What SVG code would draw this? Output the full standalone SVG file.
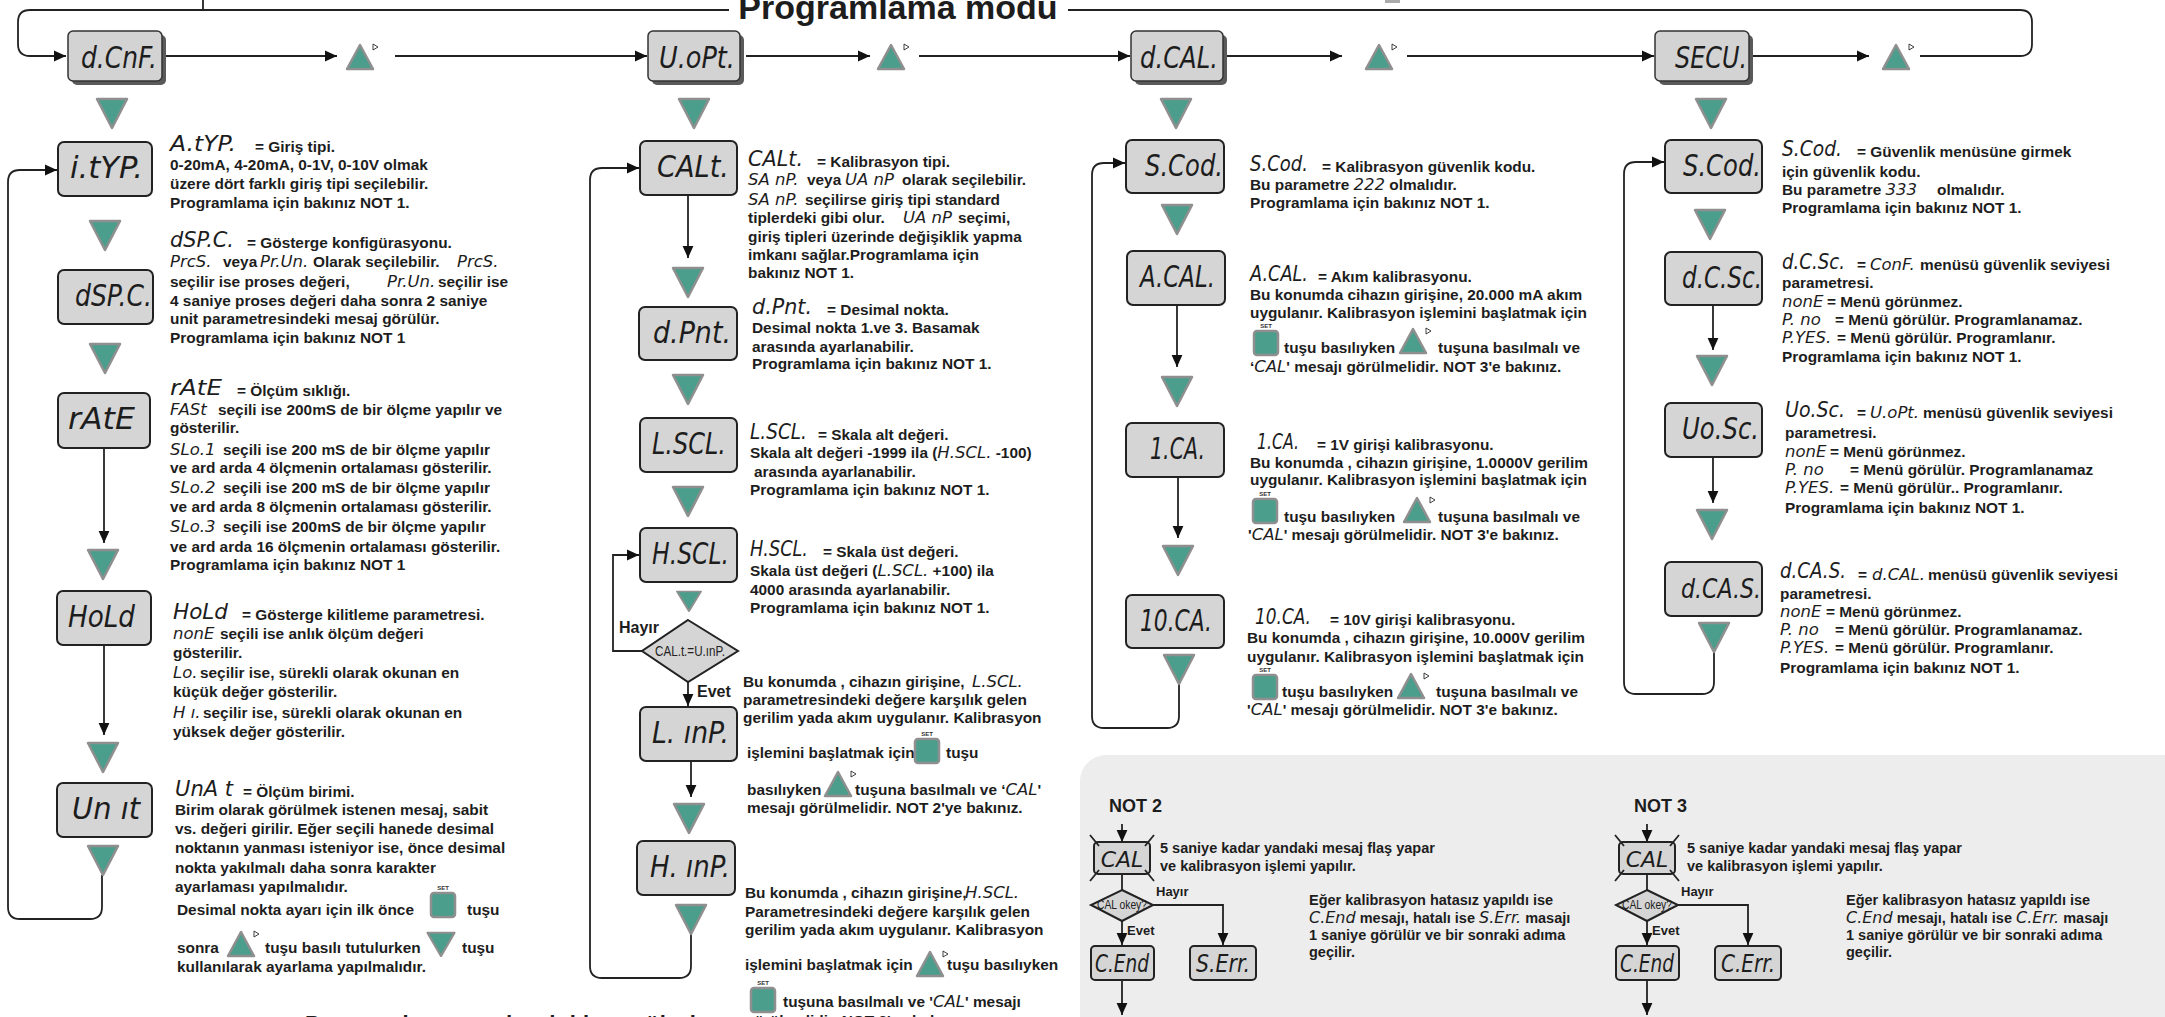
<svg xmlns="http://www.w3.org/2000/svg" xmlns:xlink="http://www.w3.org/1999/xlink" width="2165" height="1017" viewBox="0 0 2165 1017">
<style>
.tri{fill:#4a9e8b;stroke:#8f8f8f;stroke-width:2.5;stroke-linejoin:round}
.bx{fill:#d5d5d5;stroke:#222;stroke-width:2}
.bx3{fill:#d3d3d3;stroke:#333;stroke-width:1.5}
.sh3{fill:#5a5a5a}
.ln{fill:none;stroke:#222;stroke-width:1.8}
.ar{marker-end:url(#ah)}
.t{font-family:"Liberation Sans",Arial,sans-serif;font-weight:bold;font-size:15.4px;fill:#1d1d1d}
.n{font-size:14.5px}
.sg{font-family:"DejaVu Sans",sans-serif;font-style:italic;font-weight:normal;font-size:16.5px;fill:#1d1d1d}
.sh{font-size:21px}
.bl{font-family:"DejaVu Sans",sans-serif;font-style:italic;font-size:30px;fill:#1d1d1d}
.setl{font-family:"Liberation Sans",Arial,sans-serif;font-weight:bold;font-size:6px;fill:#333;text-anchor:middle}
.dl{font-family:"Liberation Sans",Arial,sans-serif;font-size:14px;fill:#222;text-anchor:middle}
</style>
<defs>
<marker id="ah" viewBox="0 0 10 10" refX="10" refY="5" markerWidth="12" markerHeight="12" markerUnits="userSpaceOnUse" orient="auto"><path d="M0,0.5 L10,5 L0,9.5 z" fill="#111"/></marker>
<polygon id="tdn" points="-15,-14 15,-14 0,15" class="tri"/>
<g id="tup"><polygon points="-13,12 13,12 0,-12" class="tri"/><polygon points="13,-13 13,-7 18,-10" fill="#fff" stroke="#111" stroke-width="0.8"/></g>
<g id="key"><rect x="-12" y="-12" width="24" height="24" rx="3" class="tri"/><text x="0" y="-15" class="setl">SET</text></g>
</defs>

<rect x="1080" y="755" width="1130" height="300" rx="26" fill="#ededed"/>

<text x="898" y="19" class="t" style="font-size:34px" text-anchor="middle">Programlama modu</text>
<rect x="1385" y="0" width="15" height="3" fill="#aaa"/>

<g id="connectors">
<path class="ln" d="M203,0 V10"/>
<path class="ln" d="M729,10 H30 Q18,10 18,22 V44 Q18,56 30,56 H66" marker-end="url(#ah)"/>
<path class="ln" d="M1920,56 H2020 Q2032,56 2032,44 V22 Q2032,10 2020,10 H1068"/>
<path class="ln ar" d="M166,56 H337"/>
<path class="ln ar" d="M395,56 H647"/>
<path class="ln ar" d="M746,56 H870"/>
<path class="ln ar" d="M919,56 H1130"/>
<path class="ln ar" d="M1226,56 H1342"/>
<path class="ln ar" d="M1407,56 H1654"/>
<path class="ln ar" d="M1753,56 H1869"/>
<!-- column 1 -->
<path class="ln ar" d="M104,448 V543"/>
<path class="ln ar" d="M104,645 V735"/>
<path class="ln ar" d="M102,875 V907 Q102,919 90,919 H20 Q8,919 8,907 V182 Q8,170 20,170 H57"/>
<!-- column 2 -->
<path class="ln ar" d="M688,195 V258"/>
<path class="ln ar" d="M642,651 H613 V555 H639"/>
<path class="ln ar" d="M688,682 V706"/>
<path class="ln ar" d="M691,761 V797"/>
<path class="ln ar" d="M691,933 V966 Q691,978 679,978 H602 Q590,978 590,966 V180 Q590,168 602,168 H639"/>
<!-- column 3 -->
<path class="ln ar" d="M1177,305 V367"/>
<path class="ln ar" d="M1178,477 V538"/>
<path class="ln ar" d="M1179,683 V716 Q1179,728 1167,728 H1104 Q1092,728 1092,716 V175 Q1092,163 1104,163 H1125"/>
<!-- column 4 -->
<path class="ln ar" d="M1713,305 V350"/>
<path class="ln ar" d="M1713,457 V503"/>
<path class="ln ar" d="M1714,652 V682 Q1714,694 1702,694 H1636 Q1624,694 1624,682 V174 Q1624,162 1636,162 H1664"/>
<!-- NOT 2 -->
<path class="ln ar" d="M1122,824 V842"/>
<path class="ln" d="M1122,874 V890"/>
<path class="ln ar" d="M1153,905 H1223 V945"/>
<path class="ln ar" d="M1122,921 V945"/>
<path class="ln ar" d="M1122,980 V1015"/>
<!-- NOT 3 -->
<path class="ln ar" d="M1647,824 V842"/>
<path class="ln" d="M1647,874 V890"/>
<path class="ln ar" d="M1678,905 H1748 V945"/>
<path class="ln ar" d="M1647,921 V945"/>
<path class="ln ar" d="M1647,980 V1015"/>
</g>

<!-- top row -->
<g id="n-dcnf"><rect x="72" y="35" width="94" height="50" rx="5" class="sh3"/><rect x="68" y="31" width="94" height="50" rx="5" class="bx3"/><text x="81" y="68" class="bl" textLength="76" lengthAdjust="spacingAndGlyphs">d.CnF.</text></g>
<g id="n-uopt"><rect x="652" y="35" width="92" height="50" rx="5" class="sh3"/><rect x="648" y="31" width="92" height="50" rx="5" class="bx3"/><text x="659" y="68" class="bl" textLength="76" lengthAdjust="spacingAndGlyphs">U.oPt.</text></g>
<g id="n-dcal"><rect x="1135" y="35" width="92" height="50" rx="5" class="sh3"/><rect x="1131" y="31" width="92" height="50" rx="5" class="bx3"/><text x="1140" y="68" class="bl" textLength="78" lengthAdjust="spacingAndGlyphs">d.CAL.</text></g>
<g id="n-secu"><rect x="1659" y="35" width="94" height="50" rx="5" class="sh3"/><rect x="1655" y="31" width="94" height="50" rx="5" class="bx3"/><text x="1675" y="68" class="bl" textLength="72" lengthAdjust="spacingAndGlyphs">SECU.</text></g>
<g id="keys-top">
<use xlink:href="#tup" x="360" y="57"/><use xlink:href="#tup" x="891" y="57"/><use xlink:href="#tup" x="1379" y="57"/><use xlink:href="#tup" x="1896" y="57"/>
<use xlink:href="#tdn" x="112" y="113"/><use xlink:href="#tdn" x="694" y="113"/><use xlink:href="#tdn" x="1176" y="113"/><use xlink:href="#tdn" x="1711" y="113"/>
</g>

<!-- column 1 -->
<g id="n-ityp"><rect x="58" y="142" width="94" height="54" rx="6" class="bx"/><text x="70" y="178" class="bl" textLength="73" lengthAdjust="spacingAndGlyphs">i.tYP.</text>
<text x="170" y="151" class="sg sh" textLength="66" lengthAdjust="spacingAndGlyphs">A.tYP.</text>
<text class="t"><tspan x="255" y="152">= Giriş tipi.</tspan>
<tspan x="170" y="170">0-20mA, 4-20mA, 0-1V, 0-10V olmak</tspan>
<tspan x="170" y="189">üzere dört farklı giriş tipi seçilebilir.</tspan>
<tspan x="170" y="208">Programlama için bakınız NOT 1.</tspan></text></g>
<use xlink:href="#tdn" x="105" y="235"/>
<g id="n-dspc"><rect x="58" y="270" width="95" height="54" rx="6" class="bx"/><text x="75" y="306" class="bl" textLength="77" lengthAdjust="spacingAndGlyphs">dSP.C.</text>
<text x="170" y="247" class="sg sh" textLength="64" lengthAdjust="spacingAndGlyphs">dSP.C.</text>
<text class="t"><tspan x="247" y="248">= Gösterge konfigürasyonu.</tspan>
<tspan x="170" y="267" class="sg">PrcS.</tspan><tspan x="223" y="267">veya</tspan><tspan x="260" y="267" class="sg">Pr.Un.</tspan><tspan x="313" y="267">Olarak seçilebilir.</tspan><tspan x="457" y="267" class="sg">PrcS.</tspan>
<tspan x="170" y="287">seçilir ise proses değeri,</tspan><tspan x="387" y="287" class="sg">Pr.Un.</tspan><tspan x="438" y="287">seçilir ise</tspan>
<tspan x="170" y="306">4 saniye proses değeri daha sonra 2 saniye</tspan>
<tspan x="170" y="324">unit parametresindeki mesaj görülür.</tspan>
<tspan x="170" y="343">Programlama için bakınız NOT 1</tspan></text></g>
<use xlink:href="#tdn" x="105" y="358"/>
<g id="n-rate"><rect x="58" y="393" width="92" height="55" rx="6" class="bx"/><text x="68" y="429" class="bl" textLength="67" lengthAdjust="spacingAndGlyphs">rAtE</text>
<text x="170" y="395" class="sg sh" textLength="52" lengthAdjust="spacingAndGlyphs">rAtE</text>
<text class="t"><tspan x="237" y="396">= Ölçüm sıklığı.</tspan>
<tspan x="170" y="415" class="sg">FASt</tspan><tspan x="218" y="415">seçili ise 200mS de bir ölçme yapılır ve</tspan>
<tspan x="170" y="433">gösterilir.</tspan>
<tspan x="170" y="455" class="sg">SLo.1</tspan><tspan x="223" y="455">seçili ise 200 mS de bir ölçme yapılır</tspan>
<tspan x="170" y="473">ve ard arda 4 ölçmenin ortalaması gösterilir.</tspan>
<tspan x="170" y="493" class="sg">SLo.2</tspan><tspan x="223" y="493">seçili ise 200 mS de bir ölçme yapılır</tspan>
<tspan x="170" y="512">ve ard arda 8 ölçmenin ortalaması gösterilir.</tspan>
<tspan x="170" y="532" class="sg">SLo.3</tspan><tspan x="223" y="532">seçili ise 200mS de bir ölçme yapılır</tspan>
<tspan x="170" y="552">ve ard arda 16 ölçmenin ortalaması gösterilir.</tspan>
<tspan x="170" y="570">Programlama için bakınız NOT 1</tspan></text></g>
<use xlink:href="#tdn" x="103" y="564"/>
<g id="n-hold"><rect x="57" y="591" width="94" height="54" rx="6" class="bx"/><text x="68" y="627" class="bl" textLength="67" lengthAdjust="spacingAndGlyphs">HoLd</text>
<text x="173" y="619" class="sg sh" textLength="55" lengthAdjust="spacingAndGlyphs">HoLd</text>
<text class="t"><tspan x="242" y="620">= Gösterge kilitleme parametresi.</tspan>
<tspan x="173" y="639" class="sg">nonE</tspan><tspan x="220" y="639">seçili ise anlık ölçüm değeri</tspan>
<tspan x="173" y="658">gösterilir.</tspan>
<tspan x="173" y="678" class="sg">Lo.</tspan><tspan x="200" y="678">seçilir ise, sürekli olarak okunan en</tspan>
<tspan x="173" y="697">küçük değer gösterilir.</tspan>
<tspan x="173" y="718" class="sg">H ı.</tspan><tspan x="203" y="718">seçilir ise, sürekli olarak okunan en</tspan>
<tspan x="173" y="737">yüksek değer gösterilir.</tspan></text></g>
<use xlink:href="#tdn" x="103" y="757"/>
<g id="n-unit"><rect x="57" y="783" width="95" height="54" rx="6" class="bx"/><text x="72" y="819" class="bl" textLength="68" lengthAdjust="spacingAndGlyphs">Un ıt</text>
<text x="175" y="796" class="sg sh" textLength="58" lengthAdjust="spacingAndGlyphs">UnA t</text>
<text class="t"><tspan x="243" y="797">= Ölçüm birimi.</tspan>
<tspan x="175" y="815">Birim olarak görülmek istenen mesaj, sabit</tspan>
<tspan x="175" y="834">vs. değeri girilir. Eğer seçili hanede desimal</tspan>
<tspan x="175" y="853">noktanın yanması isteniyor ise, önce desimal</tspan>
<tspan x="175" y="873">nokta yakılmalı daha sonra karakter</tspan>
<tspan x="175" y="892">ayarlaması  yapılmalıdır.</tspan>
<tspan x="177" y="915">Desimal nokta ayarı için ilk önce</tspan><tspan x="467" y="915">tuşu</tspan>
<tspan x="177" y="953">sonra</tspan><tspan x="265" y="953">tuşu basılı tutulurken</tspan><tspan x="462" y="953">tuşu</tspan>
<tspan x="177" y="972">kullanılarak ayarlama yapılmalıdır.</tspan></text>
<use xlink:href="#key" x="443" y="905"/><use xlink:href="#tup" x="241" y="944"/><use xlink:href="#tdn" transform="translate(441,944) scale(0.9,0.8)"/></g>
<use xlink:href="#tdn" x="103" y="860"/>
<text x="305" y="1031" class="t" style="font-size:22px;letter-spacing:1px">Programlama modundaki menülerin</text>

<!-- column 2 -->
<g id="n-calt"><rect x="640" y="141" width="97" height="54" rx="6" class="bx"/><text x="657" y="177" class="bl" textLength="72" lengthAdjust="spacingAndGlyphs">CALt.</text>
<text x="748" y="166" class="sg sh" textLength="55" lengthAdjust="spacingAndGlyphs">CALt.</text>
<text class="t"><tspan x="817" y="167">= Kalibrasyon tipi.</tspan>
<tspan x="748" y="185" class="sg">SA nP.</tspan><tspan x="807" y="185">veya</tspan><tspan x="845" y="185" class="sg">UA nP</tspan><tspan x="902" y="185">olarak seçilebilir.</tspan>
<tspan x="748" y="205" class="sg">SA nP.</tspan><tspan x="805" y="205">seçilirse giriş tipi standard</tspan>
<tspan x="748" y="223">tiplerdeki gibi olur.</tspan><tspan x="903" y="223" class="sg">UA nP</tspan><tspan x="958" y="223">seçimi,</tspan>
<tspan x="748" y="242">giriş tipleri üzerinde değişiklik yapma</tspan>
<tspan x="748" y="260">imkanı sağlar.Programlama için</tspan>
<tspan x="748" y="278">bakınız NOT 1.</tspan></text></g>
<use xlink:href="#tdn" x="688" y="282"/>
<g id="n-dpnt"><rect x="639" y="307" width="98" height="53" rx="6" class="bx"/><text x="653" y="343" class="bl" textLength="78" lengthAdjust="spacingAndGlyphs">d.Pnt.</text>
<text x="752" y="314" class="sg sh" textLength="60" lengthAdjust="spacingAndGlyphs">d.Pnt.</text>
<text class="t"><tspan x="827" y="315">= Desimal nokta.</tspan>
<tspan x="752" y="333">Desimal nokta 1.ve 3. Basamak</tspan>
<tspan x="752" y="352">arasında ayarlanabilir.</tspan>
<tspan x="752" y="369">Programlama için bakınız NOT 1.</tspan></text></g>
<use xlink:href="#tdn" x="688" y="389"/>
<g id="n-lscl"><rect x="640" y="418" width="97" height="54" rx="6" class="bx"/><text x="652" y="454" class="bl" textLength="74" lengthAdjust="spacingAndGlyphs">L.SCL.</text>
<text x="750" y="439" class="sg sh" textLength="57" lengthAdjust="spacingAndGlyphs">L.SCL.</text>
<text class="t"><tspan x="818" y="440">= Skala alt değeri.</tspan>
<tspan x="750" y="458">Skala alt değeri -1999 ila (</tspan><tspan class="sg">H.SCL.</tspan><tspan> -100)</tspan>
<tspan x="754" y="477">arasında ayarlanabilir.</tspan>
<tspan x="750" y="495">Programlama için bakınız NOT 1.</tspan></text></g>
<use xlink:href="#tdn" x="688" y="501"/>
<g id="n-hscl"><rect x="640" y="528" width="97" height="54" rx="6" class="bx"/><text x="652" y="564" class="bl" textLength="77" lengthAdjust="spacingAndGlyphs">H.SCL.</text>
<text x="750" y="556" class="sg sh" textLength="58" lengthAdjust="spacingAndGlyphs">H.SCL.</text>
<text class="t"><tspan x="823" y="557">= Skala üst değeri.</tspan>
<tspan x="750" y="576">Skala üst değeri (</tspan><tspan class="sg">L.SCL.</tspan><tspan> +100) ila</tspan>
<tspan x="750" y="595">4000 arasında  ayarlanabilir.</tspan>
<tspan x="750" y="613">Programlama için bakınız NOT 1.</tspan></text></g>
<use xlink:href="#tdn" transform="translate(689,601) scale(0.8,0.68)"/>
<g id="n-dec1"><polygon points="688,620 738,651 688,682 642,651" class="bx"/><text x="690" y="656" class="dl" textLength="70" lengthAdjust="spacingAndGlyphs">CAL.t.=U.ınP.</text>
<text x="619" y="633" class="t" style="font-size:16px">Hayır</text><text x="697" y="697" class="t" style="font-size:16px">Evet</text></g>
<g id="n-linp"><rect x="640" y="707" width="97" height="54" rx="6" class="bx"/><text x="652" y="743" class="bl" textLength="77" lengthAdjust="spacingAndGlyphs">L. ınP.</text>
<text class="t"><tspan x="743" y="687">Bu konumda , cihazın girişine,</tspan><tspan x="972" y="687" class="sg">L.SCL.</tspan>
<tspan x="743" y="705">parametresindeki değere karşılık gelen</tspan>
<tspan x="743" y="723">gerilim yada akım uygulanır. Kalibrasyon</tspan>
<tspan x="747" y="758">işlemini başlatmak için</tspan><tspan x="946" y="758">tuşu</tspan>
<tspan x="747" y="795">basılıyken</tspan><tspan x="855" y="795">tuşuna basılmalı ve  ‘</tspan><tspan class="sg">CAL</tspan><tspan>'</tspan>
<tspan x="747" y="813">mesajı görülmelidir. NOT 2'ye bakınız.</tspan></text>
<use xlink:href="#key" x="927" y="751"/><use xlink:href="#tup" x="838" y="784"/></g>
<use xlink:href="#tdn" x="689" y="818"/>
<g id="n-hinp"><rect x="637" y="841" width="98" height="54" rx="6" class="bx"/><text x="650" y="877" class="bl" textLength="80" lengthAdjust="spacingAndGlyphs">H. ınP.</text>
<text class="t"><tspan x="745" y="898">Bu konumda , cihazın girişine,</tspan><tspan x="965" y="898" class="sg">H.SCL.</tspan>
<tspan x="745" y="917">Parametresindeki değere karşılık gelen</tspan>
<tspan x="745" y="935">gerilim yada akım uygulanır. Kalibrasyon</tspan>
<tspan x="745" y="970">işlemini  başlatmak için</tspan><tspan x="947" y="970">tuşu basılıyken</tspan>
<tspan x="783" y="1007">tuşuna basılmalı ve '</tspan><tspan class="sg">CAL</tspan><tspan>' mesajı</tspan>
<tspan x="745" y="1026">görülmelidir. NOT 2'ye bakınız.</tspan></text>
<use xlink:href="#tup" x="930" y="964"/><use xlink:href="#key" x="763" y="1000"/></g>
<use xlink:href="#tdn" x="691" y="919"/>

<!-- column 3 -->
<g id="n-scod1"><rect x="1126" y="140" width="98" height="53" rx="6" class="bx"/><text x="1145" y="176" class="bl" textLength="78" lengthAdjust="spacingAndGlyphs">S.Cod.</text>
<text x="1250" y="171" class="sg sh" textLength="58" lengthAdjust="spacingAndGlyphs">S.Cod.</text>
<text class="t"><tspan x="1322" y="172">= Kalibrasyon güvenlik kodu.</tspan>
<tspan x="1250" y="190">Bu parametre </tspan><tspan class="sg">222</tspan><tspan> olmalıdır.</tspan>
<tspan x="1250" y="208">Programlama için bakınız NOT 1.</tspan></text></g>
<use xlink:href="#tdn" x="1177" y="219"/>
<g id="n-acal"><rect x="1127" y="251" width="98" height="54" rx="6" class="bx"/><text x="1140" y="287" class="bl" textLength="75" lengthAdjust="spacingAndGlyphs">A.CAL.</text>
<text x="1250" y="281" class="sg sh" textLength="58" lengthAdjust="spacingAndGlyphs">A.CAL.</text>
<text class="t"><tspan x="1318" y="282">= Akım kalibrasyonu.</tspan>
<tspan x="1250" y="300">Bu konumda cihazın girişine, 20.000 mA akım</tspan>
<tspan x="1250" y="318">uygulanır. Kalibrasyon işlemini başlatmak için</tspan>
<tspan x="1284" y="353">tuşu basılıyken</tspan><tspan x="1438" y="353">tuşuna basılmalı ve</tspan>
<tspan x="1250" y="372">‘</tspan><tspan class="sg">CAL</tspan><tspan>' mesajı görülmelidir. NOT 3'e bakınız.</tspan></text>
<use xlink:href="#key" x="1266" y="343"/><use xlink:href="#tup" x="1413" y="341"/></g>
<use xlink:href="#tdn" x="1177" y="391"/>
<g id="n-1ca"><rect x="1126" y="423" width="98" height="54" rx="6" class="bx"/><text x="1150" y="459" class="bl" textLength="55" lengthAdjust="spacingAndGlyphs">1.CA.</text>
<text x="1257" y="449" class="sg sh" textLength="42" lengthAdjust="spacingAndGlyphs">1.CA.</text>
<text class="t"><tspan x="1317" y="450">= 1V girişi kalibrasyonu.</tspan>
<tspan x="1250" y="468">Bu konumda , cihazın girişine, 1.0000V gerilim</tspan>
<tspan x="1250" y="485">uygulanır. Kalibrasyon işlemini başlatmak için</tspan>
<tspan x="1284" y="522">tuşu basılıyken</tspan><tspan x="1438" y="522">tuşuna basılmalı ve</tspan>
<tspan x="1248" y="540">'</tspan><tspan class="sg">CAL</tspan><tspan>' mesajı görülmelidir. NOT 3'e bakınız.</tspan></text>
<use xlink:href="#key" x="1265" y="511"/><use xlink:href="#tup" x="1417" y="510"/></g>
<use xlink:href="#tdn" x="1178" y="560"/>
<g id="n-10ca"><rect x="1126" y="595" width="98" height="53" rx="6" class="bx"/><text x="1140" y="631" class="bl" textLength="72" lengthAdjust="spacingAndGlyphs">10.CA.</text>
<text x="1255" y="624" class="sg sh" textLength="56" lengthAdjust="spacingAndGlyphs">10.CA.</text>
<text class="t"><tspan x="1330" y="625">= 10V girişi kalibrasyonu.</tspan>
<tspan x="1247" y="643">Bu konumda , cihazın girişine, 10.000V gerilim</tspan>
<tspan x="1247" y="662">uygulanır. Kalibrasyon işlemini başlatmak için</tspan>
<tspan x="1282" y="697">tuşu basılıyken</tspan><tspan x="1436" y="697">tuşuna basılmalı ve</tspan>
<tspan x="1247" y="715">'</tspan><tspan class="sg">CAL</tspan><tspan>' mesajı görülmelidir. NOT 3'e bakınız.</tspan></text>
<use xlink:href="#key" x="1265" y="687"/><use xlink:href="#tup" x="1411" y="686"/></g>
<use xlink:href="#tdn" x="1179" y="669"/>

<!-- column 4 -->
<g id="n-scod2"><rect x="1665" y="140" width="97" height="53" rx="6" class="bx"/><text x="1683" y="176" class="bl" textLength="78" lengthAdjust="spacingAndGlyphs">S.Cod.</text>
<text x="1782" y="156" class="sg sh" textLength="60" lengthAdjust="spacingAndGlyphs">S.Cod.</text>
<text class="t"><tspan x="1857" y="157">= Güvenlik menüsüne girmek</tspan>
<tspan x="1782" y="177">için güvenlik kodu.</tspan>
<tspan x="1782" y="195">Bu parametre </tspan><tspan class="sg">333</tspan><tspan x="1937" y="195">olmalıdır.</tspan>
<tspan x="1782" y="213">Programlama için bakınız NOT 1.</tspan></text></g>
<use xlink:href="#tdn" x="1710" y="224"/>
<g id="n-dcsc"><rect x="1665" y="252" width="97" height="53" rx="6" class="bx"/><text x="1682" y="288" class="bl" textLength="80" lengthAdjust="spacingAndGlyphs">d.C.Sc.</text>
<text x="1782" y="269" class="sg sh" textLength="63" lengthAdjust="spacingAndGlyphs">d.C.Sc.</text>
<text class="t"><tspan x="1857" y="270">=</tspan><tspan x="1870" y="270" class="sg">ConF.</tspan><tspan x="1920" y="270">menüsü güvenlik seviyesi</tspan>
<tspan x="1782" y="288">parametresi.</tspan>
<tspan x="1782" y="307" class="sg">nonE</tspan><tspan x="1827" y="307">= Menü görünmez.</tspan>
<tspan x="1782" y="325" class="sg">P.  no</tspan><tspan x="1835" y="325">= Menü görülür. Programlanamaz.</tspan>
<tspan x="1782" y="343" class="sg">P.YES.</tspan><tspan x="1837" y="343">= Menü görülür. Programlanır.</tspan>
<tspan x="1782" y="362">Programlama için bakınız NOT 1.</tspan></text></g>
<use xlink:href="#tdn" x="1712" y="370"/>
<g id="n-uosc"><rect x="1665" y="403" width="97" height="54" rx="6" class="bx"/><text x="1682" y="439" class="bl" textLength="77" lengthAdjust="spacingAndGlyphs">Uo.Sc.</text>
<text x="1785" y="417" class="sg sh" textLength="60" lengthAdjust="spacingAndGlyphs">Uo.Sc.</text>
<text class="t"><tspan x="1857" y="418">=</tspan><tspan x="1870" y="418" class="sg">U.oPt.</tspan><tspan x="1923" y="418">menüsü güvenlik seviyesi</tspan>
<tspan x="1785" y="438">parametresi.</tspan>
<tspan x="1785" y="457" class="sg">nonE</tspan><tspan x="1830" y="457">= Menü görünmez.</tspan>
<tspan x="1785" y="475" class="sg">P.   no</tspan><tspan x="1850" y="475">= Menü görülür. Programlanamaz</tspan>
<tspan x="1785" y="493" class="sg">P.YES.</tspan><tspan x="1840" y="493">= Menü görülür.. Programlanır.</tspan>
<tspan x="1785" y="513">Programlama için bakınız NOT 1.</tspan></text></g>
<use xlink:href="#tdn" x="1712" y="524"/>
<g id="n-dcas"><rect x="1665" y="562" width="97" height="54" rx="6" class="bx"/><text x="1681" y="598" class="bl" style="font-size:27px" textLength="80" lengthAdjust="spacingAndGlyphs">d.CA.S.</text>
<text x="1780" y="578" class="sg sh" textLength="66" lengthAdjust="spacingAndGlyphs">d.CA.S.</text>
<text class="t"><tspan x="1858" y="580">=</tspan><tspan x="1872" y="580" class="sg">d.CAL.</tspan><tspan x="1928" y="580">menüsü güvenlik seviyesi</tspan>
<tspan x="1780" y="599">parametresi.</tspan>
<tspan x="1780" y="617" class="sg">nonE</tspan><tspan x="1826" y="617">= Menü görünmez.</tspan>
<tspan x="1780" y="635" class="sg">P.  no</tspan><tspan x="1835" y="635">= Menü görülür. Programlanamaz.</tspan>
<tspan x="1780" y="653" class="sg">P.YES.</tspan><tspan x="1835" y="653">= Menü görülür. Programlanır.</tspan>
<tspan x="1780" y="673">Programlama için bakınız NOT 1.</tspan></text></g>
<use xlink:href="#tdn" x="1714" y="637"/>

<!-- NOT 2 -->
<g id="not2">
<text x="1109" y="812" class="t" style="font-size:18px">NOT 2</text>
<g id="n2-cal"><rect x="1094" y="842" width="56" height="32" rx="4" class="bx"/><text x="1122" y="867" class="bl" style="font-size:22px" text-anchor="middle">CAL</text>
<path class="ln" d="M1099,846 L1090,835 M1145,846 L1154,835 M1099,870 L1090,881 M1145,870 L1154,881"/></g>
<text class="t n"><tspan x="1160" y="853">5 saniye kadar yandaki mesaj flaş yapar</tspan><tspan x="1160" y="871">ve kalibrasyon işlemi yapılır.</tspan></text>
<g id="n2-dec"><polygon points="1122,890 1153,905 1122,921 1091,905" class="bx"/><text x="1122" y="909" class="dl" style="font-size:12px" textLength="50" lengthAdjust="spacingAndGlyphs">CAL okey?</text></g>
<text x="1156" y="896" class="t" style="font-size:13px">Hayır</text>
<text x="1127" y="935" class="t" style="font-size:13px">Evet</text>
<g id="n2-cend"><rect x="1091" y="946" width="63" height="34" rx="4" class="bx"/><text x="1122" y="972" class="bl" style="font-size:24px" text-anchor="middle" textLength="54" lengthAdjust="spacingAndGlyphs">C.End</text></g>
<g id="n2-serr"><rect x="1190" y="946" width="66" height="34" rx="4" class="bx"/><text x="1223" y="972" class="bl" style="font-size:24px" text-anchor="middle" textLength="54" lengthAdjust="spacingAndGlyphs">S.Err.</text></g>
<text class="t n"><tspan x="1309" y="905">Eğer kalibrasyon hatasız yapıldı ise</tspan>
<tspan x="1309" y="923" class="sg" style="font-size:16px">C.End</tspan><tspan> mesajı, hatalı ise </tspan><tspan class="sg" style="font-size:16px">S.Err.</tspan><tspan> masajı</tspan>
<tspan x="1309" y="940">1 saniye görülür ve bir sonraki adıma</tspan>
<tspan x="1309" y="957">geçilir.</tspan></text>
</g>

<!-- NOT 3 -->
<g id="not3">
<text x="1634" y="812" class="t" style="font-size:18px">NOT 3</text>
<g id="n3-cal"><rect x="1619" y="842" width="56" height="32" rx="4" class="bx"/><text x="1647" y="867" class="bl" style="font-size:22px" text-anchor="middle">CAL</text>
<path class="ln" d="M1624,846 L1615,835 M1670,846 L1679,835 M1624,870 L1615,881 M1670,870 L1679,881"/></g>
<text class="t n"><tspan x="1687" y="853">5 saniye kadar yandaki mesaj flaş yapar</tspan><tspan x="1687" y="871">ve kalibrasyon işlemi yapılır.</tspan></text>
<g id="n3-dec"><polygon points="1647,890 1678,905 1647,921 1616,905" class="bx"/><text x="1647" y="909" class="dl" style="font-size:12px" textLength="50" lengthAdjust="spacingAndGlyphs">CAL okey?</text></g>
<text x="1681" y="896" class="t" style="font-size:13px">Hayır</text>
<text x="1652" y="935" class="t" style="font-size:13px">Evet</text>
<g id="n3-cend"><rect x="1616" y="946" width="63" height="34" rx="4" class="bx"/><text x="1647" y="972" class="bl" style="font-size:24px" text-anchor="middle" textLength="54" lengthAdjust="spacingAndGlyphs">C.End</text></g>
<g id="n3-cerr"><rect x="1715" y="946" width="66" height="34" rx="4" class="bx"/><text x="1748" y="972" class="bl" style="font-size:24px" text-anchor="middle" textLength="54" lengthAdjust="spacingAndGlyphs">C.Err.</text></g>
<text class="t n"><tspan x="1846" y="905">Eğer kalibrasyon hatasız yapıldı ise</tspan>
<tspan x="1846" y="923" class="sg" style="font-size:16px">C.End</tspan><tspan> mesajı, hatalı ise </tspan><tspan class="sg" style="font-size:16px">C.Err.</tspan><tspan> masajı</tspan>
<tspan x="1846" y="940">1 saniye görülür ve bir sonraki adıma</tspan>
<tspan x="1846" y="957">geçilir.</tspan></text>
</g>
</svg>
